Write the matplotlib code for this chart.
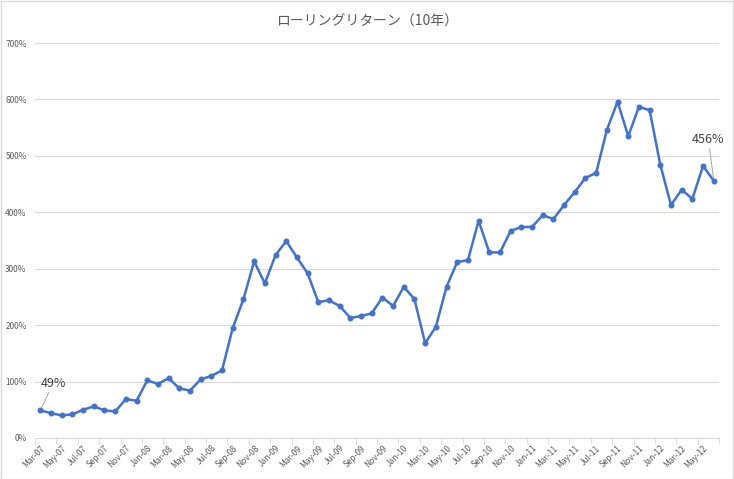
# ローリングリターン（10年） line chart, Excel style
import numpy as np
import pandas as pd
from matplotlib import pyplot as plt
from matplotlib.patches import Rectangle

plt.rcParams['font.family'] = ['Noto Sans CJK JP', 'DejaVu Sans']

months = pd.date_range('2007-03-01', periods=64, freq='MS').strftime('%b-%y').tolist()

# rolling 10y return, percent
returns = [49, 44, 40, 42, 50, 56, 49, 47, 69, 66,
           102, 96, 106, 88, 84, 104, 110, 120, 195, 246,
           313, 274, 324, 349, 320, 292, 241, 244, 234, 213,
           216, 221, 249, 234, 268, 246, 168, 197, 268, 312,
           315, 385, 329, 329, 367, 374, 374, 395, 388, 413,
           436, 461, 470, 546, 596, 535, 587, 581, 484, 413,
           440, 424, 482, 456]

title = 'ローリングリターン（10年）'
line_color = '#4472C4'
grid_color = '#D9D9D9'
text_color = '#595959'

fig = plt.figure(figsize=(7.34, 4.79), dpi=100)
ax = fig.add_axes([0.0477, 0.0856, 0.932, 0.8245])

x = np.arange(len(returns))
ax.plot(x, returns, color=line_color, lw=1.8, marker='o', ms=3.3, zorder=3)

ax.set_xlim(-0.5, len(returns) - 0.5)
ax.set_ylim(0, 700)
ax.set_yticks(np.arange(0, 701, 100))
ax.set_yticklabels([f'{v}%' for v in range(0, 701, 100)], fontsize=6, color=text_color)
ax.grid(axis='y', color=grid_color, lw=0.8)
ax.set_axisbelow(True)

# labels every 2 months, ticks on category boundaries
ax.set_xticks(x[::2])
ax.set_xticklabels(months[::2], rotation=45, ha='right', rotation_mode='anchor',
                   fontsize=6, color=text_color)
ax.tick_params(axis='x', length=0, pad=4)
ax.set_xticks(np.arange(-0.5, len(returns), 2), minor=True)
ax.tick_params(axis='x', which='minor', length=4, color=grid_color)
ax.tick_params(axis='y', length=0, pad=6)

for s in ['top', 'right', 'left']:
    ax.spines[s].set_visible(False)
ax.spines['bottom'].set_color(grid_color)

ax.annotate(f'{returns[0]}%', xy=(0, returns[0]), xytext=(0.0, 97),
            fontsize=9, color='#404040', ha='left', va='center',
            arrowprops=dict(arrowstyle='-', color='#A6A6A6', lw=0.7, shrinkA=0, shrinkB=2))
ax.annotate(f'{returns[-1]}%', xy=(63, returns[-1]), xytext=(62.5, 529),
            fontsize=9, color='#404040', ha='center', va='center',
            arrowprops=dict(arrowstyle='-', color='#A6A6A6', lw=0.7, shrinkA=0, shrinkB=2))

fig.text(0.5, 0.955, title, ha='center', va='center', fontsize=10, color=text_color)

fig.patches.append(Rectangle((0.001, 0.001), 0.997, 0.997, transform=fig.transFigure,
                             fill=False, edgecolor=grid_color, lw=1))

fig.savefig('out.png', dpi=100)
